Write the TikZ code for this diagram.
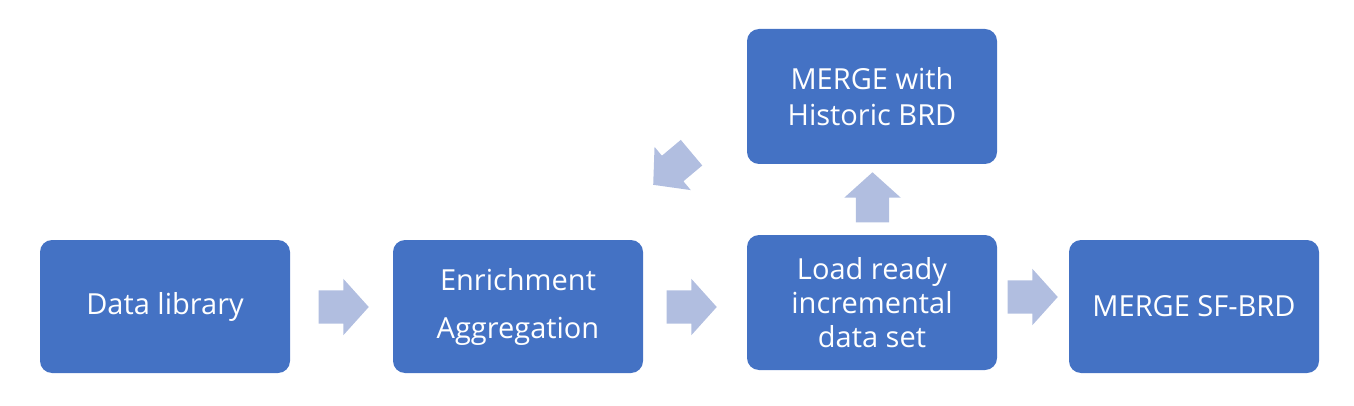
\documentclass[tikz,border=0pt]{standalone}
\usepackage{fontspec}
\setmainfont{Open Sans}
\usetikzlibrary{shapes.arrows}
\definecolor{boxblue}{HTML}{4472C4}
\definecolor{arrowcol}{HTML}{B1BEE0}
\begin{document}
\begin{tikzpicture}[x=1pt,y=-1pt,
  box/.style={fill=boxblue, draw=none, rounded corners=12pt, minimum width=250pt, minimum height=133pt, text=white, align=center, inner sep=0pt, font=\fontsize{29}{34}\selectfont},
  blockarrow/.style={shape=single arrow, anchor=tip, fill=arrowcol, draw=none, minimum height=50pt, single arrow head extend=11.5pt, single arrow tip angle=96, single arrow head indent=0pt, inner xsep=0pt, inner ysep=16.5pt}
]
\useasboundingbox (0,0) rectangle (1354,406);
\node[box] (lib) at (165,306.5) {Data library};
\node[box] (enr) at (518,306.5) {Enrichment\\[14pt]Aggregation};
\node[box, minimum height=135pt] (load) at (872,302.5) {Load ready\\incremental\\data set};
\node[box, minimum height=135pt] (hist) at (872,96.5) {MERGE with\\[2pt]Historic BRD};
\node[box] (sf) at (1194,306.5) {MERGE SF-BRD};
\node[blockarrow] (a1) at (369,307) {};
\node[blockarrow] (a2) at (717,307) {};
\node[blockarrow] (a3) at (1058,297) {};
\node[blockarrow, rotate=90] (a4) at (872.5,172) {};
\node[blockarrow, rotate=220] (a5) at (653,185) {};
\end{tikzpicture}
\end{document}
